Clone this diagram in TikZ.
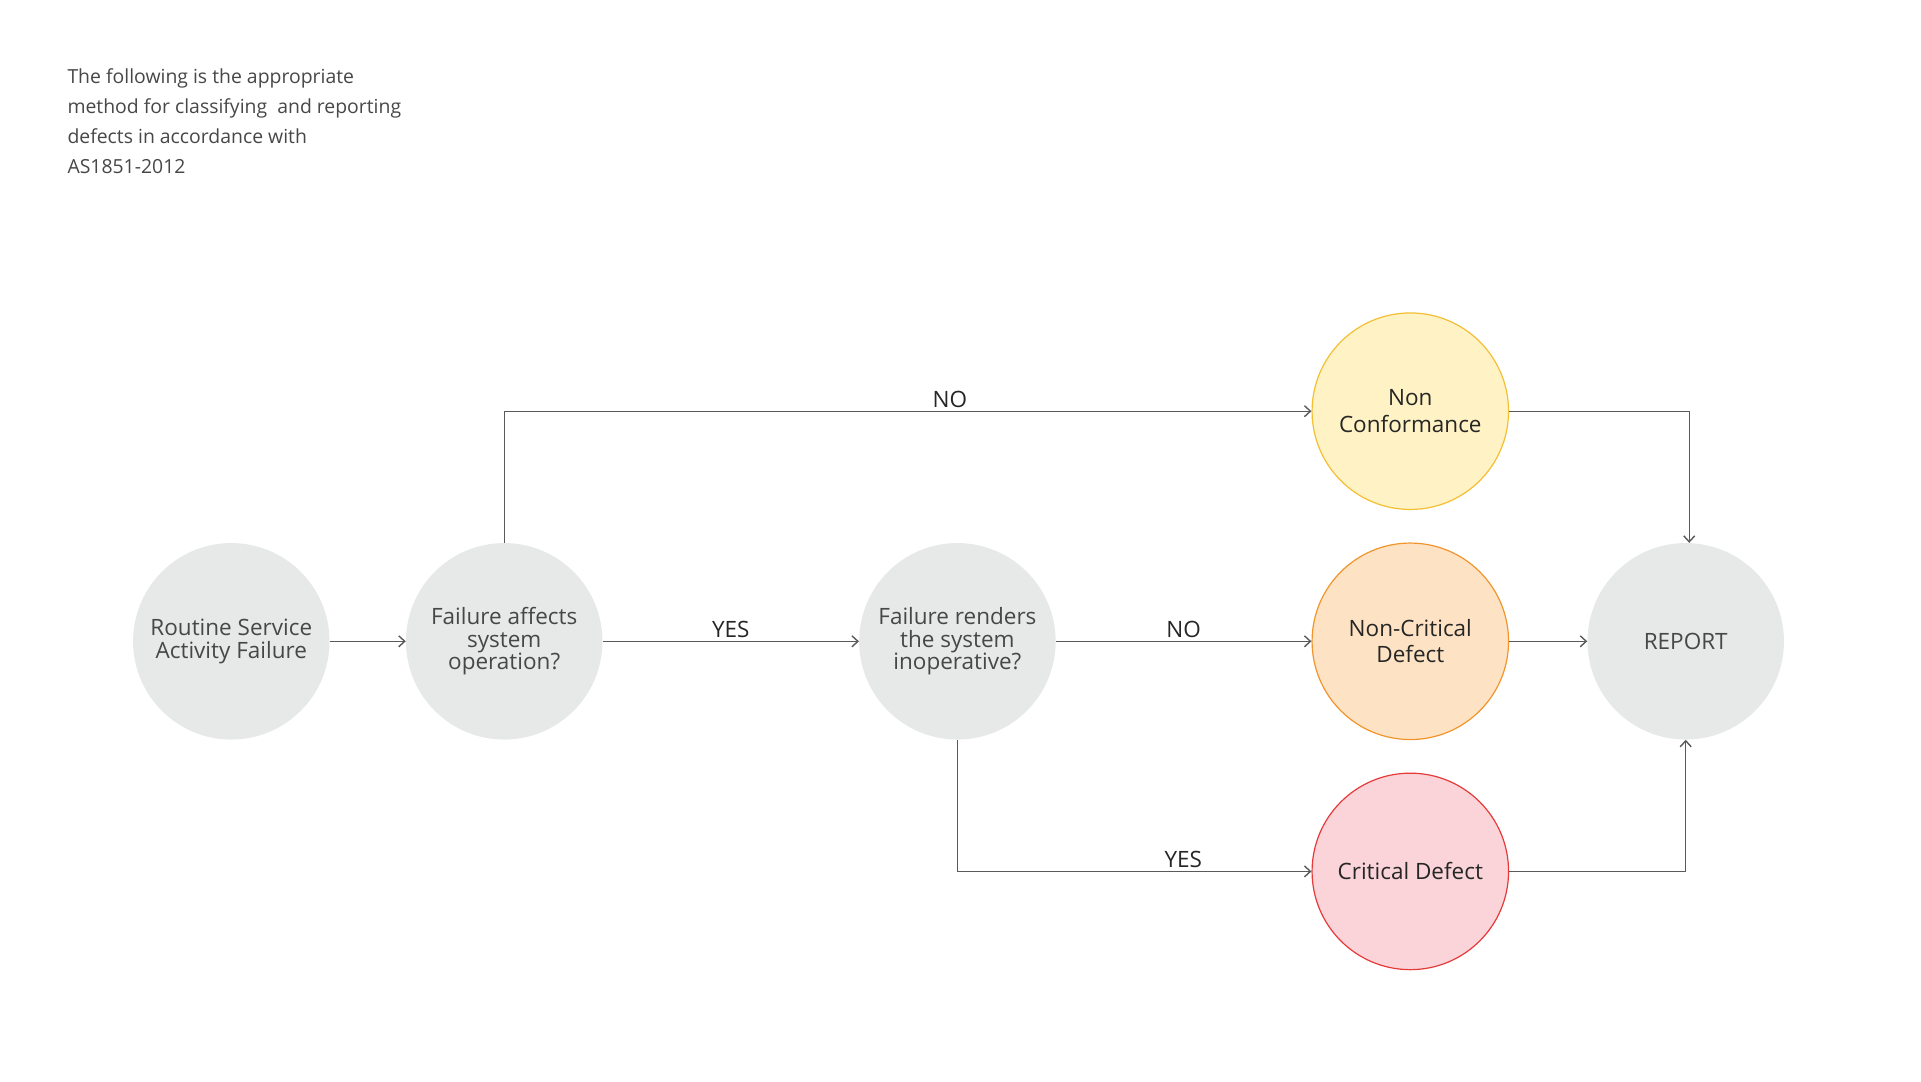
\documentclass[tikz,border=0pt]{standalone}
\usepackage{fontspec}
\setmainfont{Open Sans}
\usepackage{tikz}
\usetikzlibrary{arrows.meta}
\definecolor{wire}{HTML}{5A5A5A}
\definecolor{greyfill}{HTML}{E7E8E8}
\definecolor{greytext}{HTML}{474747}
\definecolor{ncfill}{HTML}{FFF2C4}
\definecolor{ncdraw}{HTML}{F4BF33}
\definecolor{ncdfill}{HTML}{FDE2C3}
\definecolor{ncddraw}{HTML}{F2942C}
\definecolor{cdfill}{HTML}{FAD4D8}
\definecolor{cddraw}{HTML}{E63A3A}
\tikzstyle{flow}=[-{Straight Barb[length=6pt,width=11pt]},draw=wire,line width=1.4pt]
\tikzstyle{s}=[circle, inner sep=0pt, minimum size=196.5pt, align=center, font=\fontsize{22.5}{22.3}\selectfont]
\tikzstyle{g}=[s, fill=greyfill, text=greytext]
\tikzstyle{nc}=[s, fill=ncfill, draw=ncdraw, line width=1.2pt, text=black!85, font=\fontsize{22.5}{26.5}\selectfont]
\tikzstyle{ncd}=[s, fill=ncdfill, draw=ncddraw, line width=1.2pt, text=black!85, font=\fontsize{22.5}{25.5}\selectfont]
\tikzstyle{cd}=[s, fill=cdfill, draw=cddraw, line width=1.2pt, text=black!85]
\tikzstyle{lbl}=[above, inner sep=3pt, text=black!85, font=\fontsize{22.5}{24}\selectfont]

\begin{document}
\begin{tikzpicture}[x=1pt,y=1pt]
				\useasboundingbox (0,0) rectangle (1921,-1081);
				
				%The note
				\draw (67.3,-68.5) node[anchor=north west, inner sep=0pt, align=left, text=greytext, font=\fontsize{19.4}{30}\selectfont] (note) {The following is the appropriate\\method for classifying\ \ and reporting\\defects in accordance with\\AS1851-2012};
				
				%The questions
				\draw (231.3,-641.3) node[g] (start) {Routine Service\\Activity Failure};
				
				\draw (504.2,-641.3) node[g] (affects) {Failure affects\\system\\operation?};
				
				\draw (957.4,-641.3) node[g] (renders) {Failure renders\\the system\\inoperative?};
				
				%The outcomes
				\draw (1410.3,-411.2) node[nc] (nonconf) {Non\\Conformance};
				
				\draw (1410.3,-641.3) node[ncd] (noncrit) {Non-Critical\\Defect};
				
				\draw (1410.3,-871.4) node[cd] (crit) {Critical Defect};
				
				\draw (1685.7,-641.3) node[g] (report) {REPORT};
				
				\draw[flow] (start) -- (affects);
				\draw[flow] (affects.north) |- node[lbl, pos=0.776] {NO} (nonconf.west);
				\draw[flow] (affects) -- node[lbl] {YES} (renders);
				\draw[flow] (renders) -- node[lbl] {NO} (noncrit);
				\draw[flow] (renders.south) |- node[lbl, pos=0.819] {YES} (crit.west);
				\draw[flow] (nonconf.east) -| ([xshift=3.5pt]report.north);
				\draw[flow] (noncrit) -- (report);
				\draw[flow] (crit.east) -| (report.south);
			\end{tikzpicture}
\end{document}
